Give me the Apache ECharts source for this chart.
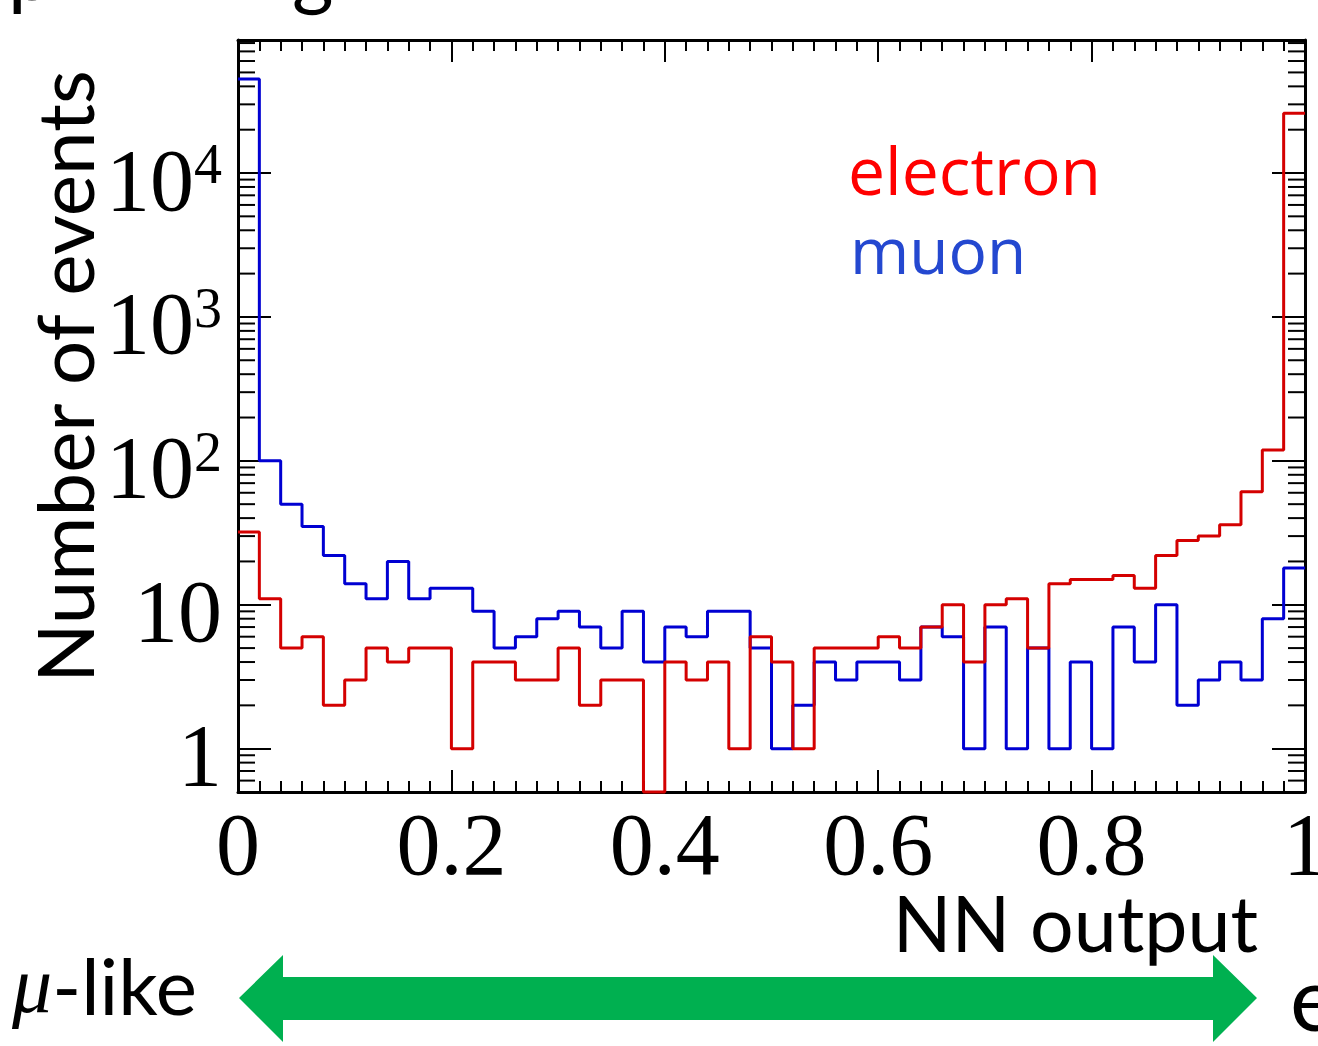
<!DOCTYPE html>
<html>
<head>
<meta charset="utf-8">
<script src="https://cdn.jsdelivr.net/npm/echarts@6/dist/echarts.min.js"></script>
<style>
  html, body { margin: 0; padding: 0; background: #ffffff; }
  #chart { width: 1318px; height: 1046px; }
</style>
</head>
<body>
<div id="chart"></div>
<script>
// ---- data (50 bins of width 0.02 over [0,1]) ----
const binWidth = 0.02;
const muonCounts = [45000, 100, 50, 35, 22, 14, 11, 20, 11, 13,
                    13, 9, 5, 6, 8, 9, 7, 5, 9, 4,
                    7, 6, 9, 9, 5, 1, 2, 4, 3, 4,
                    4, 3, 7, 6, 1, 7, 1, 5, 1, 4,
                    1, 7, 4, 10, 2, 3, 4, 3, 8, 18];
const electronCounts = [32, 11, 5, 6, 2, 3, 5, 4, 5, 5,
                        1, 4, 4, 3, 3, 5, 2, 3, 3, 0,
                        4, 3, 4, 1, 6, 4, 1, 5, 5, 5,
                        6, 5, 7, 10, 4, 10, 11, 5, 14, 15,
                        15, 16, 13, 22, 28, 30, 36, 61, 119, 26000];
const xTickLabels = ['0', '0.2', '0.4', '0.6', '0.8', '1'];
const yMin = 0.5, yMax = 84000;
const yMinorTicks = [0.6, 0.7, 0.8, 0.9,
                     2, 3, 4, 5, 6, 7, 8, 9,
                     20, 30, 40, 50, 60, 70, 80, 90,
                     200, 300, 400, 500, 600, 700, 800, 900,
                     2000, 3000, 4000, 5000, 6000, 7000, 8000, 9000,
                     20000, 30000, 40000, 50000, 60000, 70000, 80000];

// build histogram step outlines (empty bins are drawn on the frame bottom, as ROOT does)
function stepPoints(counts) {
  const pts = [];
  counts.forEach((c, i) => {
    const v = c > 0 ? c : yMin;
    pts.push([i * binWidth, v]);
    pts.push([(i + 1) * binWidth, v]);
  });
  return pts;
}

const chart = echarts.init(document.getElementById('chart'), null, { renderer: 'svg' });

const SERIF = '"Liberation Serif", "DejaVu Serif", serif';
const SANS = 'Lato, "Open Sans", sans-serif';

function yLabel(v) {
  const l = Math.log10(v);
  const e = Math.round(l);
  if (Math.abs(l - e) > 1e-6) return '';
  if (e === 0) return '{b|1}';
  if (e === 1) return '{b|10}';
  return '{b|10}{s|' + e + '}';
}

const axisLineStyle = { color: '#000', width: 3 };
const xAxisBase = {
  type: 'value', min: 0, max: 1, interval: 0.2,
  axisLine: { show: true, onZero: false, lineStyle: axisLineStyle },
  axisTick: { show: true, inside: true, length: 22, lineStyle: { color: '#000', width: 2 } },
  minorTick: { show: true, splitNumber: 10, length: 11, lineStyle: { color: '#000', width: 2 } },
  splitLine: { show: false },
  minorSplitLine: { show: false }
};
const yAxisBase = {
  type: 'log', logBase: 10, min: yMin, max: yMax,
  axisLine: { show: true, onZero: false, lineStyle: axisLineStyle },
  axisTick: { show: true, inside: true, length: 33, lineStyle: { color: '#000', width: 2 } },
  splitLine: { show: false }
};

chart.setOption({
  animation: false,
  backgroundColor: '#ffffff',
  grid: { left: 238, top: 40, right: 13, bottom: 254, containLabel: false, outerBoundsMode: 'none' },
  xAxis: [
    Object.assign({}, xAxisBase, {
      position: 'bottom',
      axisLabel: {
        show: true, margin: 17, color: '#000', fontFamily: SERIF, fontSize: 88, lineHeight: 70,
        hideOverlap: false, showMinLabel: true, showMaxLabel: true,
        formatter: (v) => xTickLabels[Math.round(v / 0.2)]
      }
    }),
    Object.assign({}, xAxisBase, { position: 'top', axisLabel: { show: false } })
  ],
  yAxis: [
    Object.assign({}, yAxisBase, {
      position: 'left',
      axisLabel: {
        show: true, margin: 16, color: '#000', formatter: yLabel,
        padding: [14, 0, 0, 0],
        rich: {
          b: { fontFamily: SERIF, fontSize: 88, lineHeight: 88, color: '#000' },
          s: { fontFamily: SERIF, fontSize: 56, lineHeight: 88, verticalAlign: 'top', color: '#000' }
        }
      }
    }),
    Object.assign({}, yAxisBase, { position: 'right', axisLabel: { show: false } })
  ],
  series: [
    {
      name: 'minor ticks', type: 'custom', xAxisIndex: 0, yAxisIndex: 0, silent: true, clip: false, z: 5,
      data: yMinorTicks.map(v => [0, v]),
      renderItem: function (params, api) {
        const y = api.coord([0, api.value(1)])[1];
        const cs = params.coordSys;
        const st = { stroke: '#000', lineWidth: 2 };
        return {
          type: 'group',
          children: [
            { type: 'line', shape: { x1: cs.x, y1: y, x2: cs.x + 17, y2: y }, style: st },
            { type: 'line', shape: { x1: cs.x + cs.width - 17, y1: y, x2: cs.x + cs.width, y2: y }, style: st }
          ]
        };
      }
    },
    {
      name: 'muon', type: 'line', data: stepPoints(muonCounts), showSymbol: false, clip: false,
      lineStyle: { color: '#0000d2', width: 3 }, z: 3
    },
    {
      name: 'electron', type: 'line', data: stepPoints(electronCounts), showSymbol: false, clip: false,
      lineStyle: { color: '#d40000', width: 3 }, z: 4
    }
  ],
  graphic: [
    { type: 'text', x: 64, y: 683, rotation: Math.PI / 2,
      style: { text: 'Number of events', fill: '#000', font: '78px ' + SANS, align: 'left', verticalAlign: 'middle' } },
    { type: 'text', x: 1258, y: 922,
      style: { text: 'NN output', fill: '#000', font: '77px ' + SANS, align: 'right', verticalAlign: 'middle', lineHeight: 60 } },
    { type: 'text', x: 848, y: 169,
      style: { text: 'electron', fill: '#ff0000', font: '66px "Open Sans", sans-serif', align: 'left', verticalAlign: 'middle', lineHeight: 60 } },
    { type: 'text', x: 850, y: 249,
      style: { text: 'muon', fill: '#2448d0', font: '64px "Open Sans", sans-serif', align: 'left', verticalAlign: 'middle', lineHeight: 60 } },
    { type: 'polygon',
      shape: { points: [[239, 998], [283, 955], [283, 977], [1213, 977], [1213, 955], [1257, 998], [1213, 1042], [1213, 1020], [283, 1020], [283, 1042]] },
      style: { fill: '#00b050' } },
    { type: 'text', x: 12, y: 985,
      style: {
        text: '{m|μ}{t|-like}', align: 'left', verticalAlign: 'middle',
        rich: {
          m: { fontFamily: SERIF, fontStyle: 'italic', fontSize: 80, fill: '#000' },
          t: { fontFamily: SANS, fontSize: 78, fill: '#000' }
        }
      } },
    { type: 'text', x: 1290, y: 996,
      style: { text: 'e-like', fill: '#000', font: '90px ' + SANS, align: 'left', verticalAlign: 'middle' } },
    { type: 'text', x: 8, y: -31,
      style: { text: 'p', fill: '#000', font: '80px ' + SANS, align: 'left', verticalAlign: 'middle' } },
    { type: 'text', x: 292, y: -31,
      style: { text: 'g', fill: '#000', font: '80px ' + SANS, align: 'left', verticalAlign: 'middle' } }
  ]
});
</script>
</body>
</html>
